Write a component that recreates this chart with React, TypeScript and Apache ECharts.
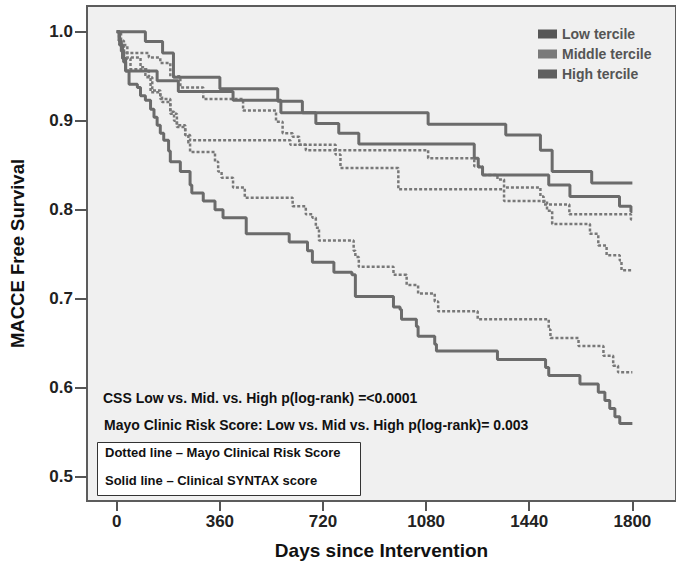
import React, { useEffect, useRef } from "react";
import * as echarts from "echarts";

// Kaplan-Meier step data: [day of drop, survival after drop]
const cssLow: number[][] = [
  [0, 1.0], [100, 0.989], [160, 0.976], [198, 0.949], [360, 0.936], [562, 0.922],
  [648, 0.909], [1087, 0.896], [1358, 0.884], [1479, 0.867], [1520, 0.843],
  [1658, 0.83], [1800, 0.83],
];
const cssMid: number[][] = [
  [0, 1.0], [8, 0.99], [16, 0.978], [24, 0.966], [31, 0.956], [141, 0.945],
  [215, 0.933], [406, 0.923], [573, 0.909], [695, 0.897], [775, 0.886], [845, 0.874],
  [1248, 0.858], [1262, 0.848], [1277, 0.839], [1508, 0.828], [1582, 0.815],
  [1755, 0.804], [1795, 0.798], [1800, 0.798],
];
const cssHigh: number[][] = [
  [0, 1.0], [10, 0.985], [20, 0.97], [31, 0.956], [43, 0.941], [72, 0.9375],
  [83, 0.928], [100, 0.923], [118, 0.913], [130, 0.904], [141, 0.895], [152, 0.886],
  [164, 0.878], [181, 0.866], [187, 0.854], [222, 0.843], [256, 0.828], [262, 0.819],
  [302, 0.81], [343, 0.8], [371, 0.791], [452, 0.773], [602, 0.764], [666, 0.754],
  [683, 0.741], [758, 0.73], [821, 0.727], [833, 0.7026], [966, 0.691], [989, 0.688],
  [994, 0.677], [1046, 0.669], [1052, 0.658], [1110, 0.649], [1116, 0.6415],
  [1329, 0.632], [1497, 0.623], [1508, 0.614], [1617, 0.6045], [1681, 0.595],
  [1704, 0.586], [1721, 0.577], [1739, 0.5675], [1756, 0.56], [1800, 0.56],
];
const mayoLow: number[][] = [
  [0, 1.0], [8, 0.99], [25, 0.976], [112, 0.971], [152, 0.965], [187, 0.95],
  [222, 0.9375], [302, 0.9245], [441, 0.9115], [556, 0.899], [579, 0.886],
  [614, 0.882], [637, 0.873], [660, 0.867], [1087, 0.858], [1248, 0.849],
  [1277, 0.839], [1329, 0.834], [1352, 0.825], [1479, 0.815], [1490, 0.806],
  [1580, 0.795], [1795, 0.789], [1800, 0.789],
];
const mayoMid: number[][] = [
  [0, 1.0], [15, 0.985], [37, 0.971], [83, 0.96], [100, 0.949], [124, 0.934],
  [152, 0.9245], [187, 0.908], [210, 0.893], [239, 0.884], [256, 0.878],
  [606, 0.873], [764, 0.862], [781, 0.847], [983, 0.823], [1352, 0.81],
  [1502, 0.799], [1520, 0.784], [1652, 0.773], [1681, 0.76], [1710, 0.749],
  [1756, 0.743], [1762, 0.732], [1800, 0.732],
];
const mayoHigh: number[][] = [
  [0, 1.0], [10, 0.985], [25, 0.97], [48, 0.958], [112, 0.95], [118, 0.932],
  [152, 0.928], [158, 0.921], [187, 0.91], [200, 0.9], [210, 0.895], [239, 0.884],
  [250, 0.875], [256, 0.865], [343, 0.854], [354, 0.843], [366, 0.836], [406, 0.825],
  [447, 0.8135], [614, 0.804], [660, 0.795], [683, 0.791], [695, 0.78], [706, 0.7655],
  [827, 0.754], [833, 0.747], [845, 0.736], [966, 0.727], [1012, 0.7155],
  [1052, 0.706], [1110, 0.697], [1122, 0.686], [1260, 0.677], [1508, 0.6656],
  [1514, 0.656], [1612, 0.647], [1699, 0.636], [1733, 0.625], [1750, 0.6175],
  [1800, 0.6175],
];

const xTicks = [0, 360, 720, 1080, 1440, 1800];
const yTicks = [0.5, 0.6, 0.7, 0.8, 0.9, 1.0];
const legendNames = ["Low tercile", "Middle tercile", "High tercile"];
const legendColors = ["#575757", "#7a7a7a", "#5f5f5f"];
const annotation1 = "CSS Low vs. Mid. vs. High p(log-rank) =<0.0001";
const annotation2 = "Mayo Clinic Risk Score: Low vs. Mid vs. High p(log-rank)= 0.003";
const boxLine1 = "Dotted line \u2013 Mayo Clinical Risk Score";
const boxLine2 = "Solid line \u2013 Clinical SYNTAX score";

const FONT = "Arial, 'Liberation Sans', Helvetica, sans-serif";

export default function App() {
  const ref = useRef<HTMLDivElement>(null);
  useEffect(() => {
    if (!ref.current) return;
    const chart = echarts.init(ref.current, undefined, { renderer: "svg" });
    const solid = (name: string, data: number[][]) => ({
      name,
      type: "line",
      step: "end",
      data,
      symbol: "none",
      lineStyle: { color: "#6b6b6b", width: 3, type: "solid" },
      itemStyle: { color: "#6b6b6b" },
    });
    const dotted = (name: string, data: number[][]) => ({
      name,
      type: "line",
      step: "end",
      data,
      symbol: "none",
      lineStyle: { color: "#787878", width: 2.5, type: [3, 2] },
      itemStyle: { color: "#787878" },
    });
    chart.setOption({
      animation: false,
      backgroundColor: "#ffffff",
      grid: {
        left: 86,
        top: 6,
        right: -4,
        bottom: 58,
        show: true,
        backgroundColor: "#f0f0f0",
        borderColor: "#5c5c5c",
        borderWidth: 2,
      },
      legend: {
        show: true,
        orient: "vertical",
        left: 538,
        top: 27,
        padding: 0,
        itemGap: 6,
        itemWidth: 19,
        itemHeight: 9,
        icon: "rect",
        selectedMode: false,
        textStyle: { fontFamily: FONT, fontWeight: "bold", fontSize: 14, color: "#555555" },
        data: legendNames.map((n, i) => ({ name: n, itemStyle: { color: legendColors[i] } })),
      },
      xAxis: {
        type: "value",
        min: -103.85,
        max: 1952.3,
        name: "Days since Intervention",
        nameLocation: "middle",
        nameGap: 40,
        nameTextStyle: { fontFamily: FONT, fontWeight: "bold", fontSize: 19, color: "#111" },
        axisLine: { show: false, onZero: false },
        splitLine: { show: false },
        axisTick: {
          show: true,
          inside: false,
          length: 10,
          customValues: xTicks,
          lineStyle: { color: "#555", width: 2 },
        },
        axisLabel: {
          customValues: xTicks,
          margin: 12,
          formatter: (v: number) => String(Math.round(v)),
          fontFamily: FONT,
          fontWeight: "bold",
          fontSize: 17,
          color: "#222",
        },
      },
      yAxis: {
        type: "value",
        min: 0.473,
        max: 1.0289,
        name: "MACCE Free Survival",
        nameLocation: "middle",
        nameGap: 60,
        nameTextStyle: { fontFamily: FONT, fontWeight: "bold", fontSize: 18.5, color: "#111" },
        axisLine: { show: false, onZero: false },
        splitLine: { show: false },
        axisTick: {
          show: true,
          inside: false,
          length: 12,
          customValues: yTicks,
          lineStyle: { color: "#555", width: 2 },
        },
        axisLabel: {
          customValues: yTicks,
          margin: 14,
          formatter: (v: number) => v.toFixed(1),
          fontFamily: FONT,
          fontWeight: "bold",
          fontSize: 17,
          color: "#222",
        },
      },
      graphic: [
        {
          type: "text",
          left: 103,
          top: 391,
          style: { text: annotation1, font: `bold 14px ${FONT}`, fill: "#111" },
        },
        {
          type: "text",
          left: 104,
          top: 418,
          style: { text: annotation2, font: `bold 14px ${FONT}`, fill: "#111" },
        },
        {
          type: "rect",
          shape: { x: 97.5, y: 442.5, width: 263, height: 53 },
          style: { fill: "#ffffff", stroke: "#333", lineWidth: 1 },
        },
        {
          type: "text",
          left: 105,
          top: 446,
          style: { text: boxLine1, font: `bold 13px ${FONT}`, fill: "#111" },
        },
        {
          type: "text",
          left: 105,
          top: 474,
          style: { text: boxLine2, font: `bold 13px ${FONT}`, fill: "#111" },
        },
      ],
      series: [
        dotted("Mayo Low", mayoLow),
        dotted("Mayo Middle", mayoMid),
        dotted("Mayo High", mayoHigh),
        solid(legendNames[0], cssLow),
        solid(legendNames[1], cssMid),
        solid(legendNames[2], cssHigh),
      ],
    });
    return () => chart.dispose();
  }, []);
  return (
    <div
      ref={ref}
      style={{ position: "absolute", left: 0, top: 0, width: 676, height: 565 }}
    />
  );
}
